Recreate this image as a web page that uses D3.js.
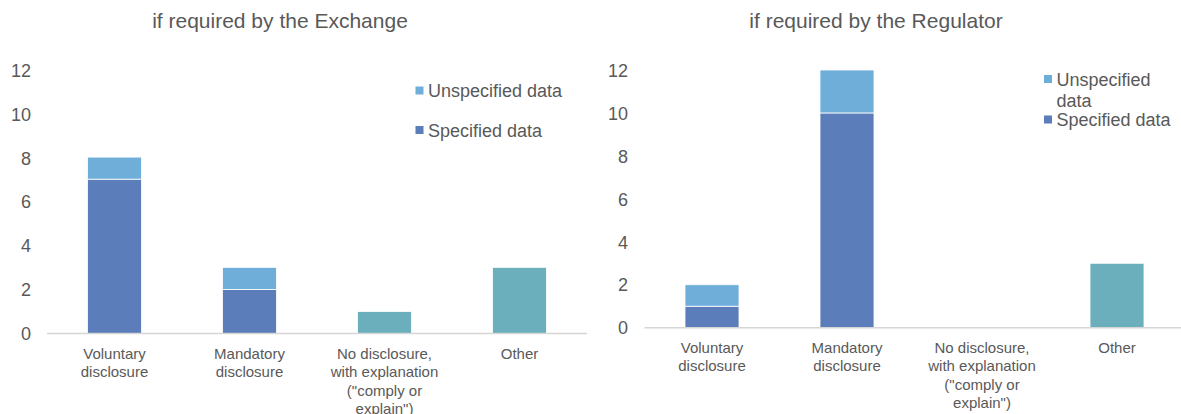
<!DOCTYPE html>
<html>
<head>
<meta charset="utf-8">
<script src="https://cdn.jsdelivr.net/npm/d3@7"></script>
<style>
  body { margin: 0; background: #fff; }
  text { font-family: "Liberation Sans", Arial, sans-serif; fill: #595959; }
</style>
</head>
<body>
<svg width="1181" height="414"></svg>
<script>
const categories = ["Voluntary disclosure", "Mandatory disclosure",
  'No disclosure, with explanation ("comply or explain")', "Other"];
const yTicks = [0, 2, 4, 6, 8, 10, 12];

const exchangeSpecified = [7, 2, 0, 0];
const exchangeUnspecified = [1, 1, 0, 0];
const exchangeOther = [0, 0, 1, 3];

const regulatorSpecified = [1, 10, 0, 0];
const regulatorUnspecified = [1, 2, 0, 0];
const regulatorOther = [0, 0, 0, 3];

const colors = {specified: "#5b7dba", unspecified: "#70aeda", other: "#6aafbb"};
const legendItems = [["unspecified", "Unspecified data"], ["specified", "Specified data"]];

const svg = d3.select("svg");

drawPanel({
  title: "if required by the Exchange", titleX: 280,
  specified: exchangeSpecified, unspecified: exchangeUnspecified, other: exchangeOther,
  x0: 47, x1: 587, lineEnd: 587, yBase: 333.5, yTop: 68.9, tickX: 31, labelShift: 1.5,
  legendX: 415.5, legendY: [90.5, 130], legendWrap: 200
});
drawPanel({
  title: "if required by the Regulator", titleX: 876,
  specified: regulatorSpecified, unspecified: regulatorUnspecified, other: regulatorOther,
  x0: 644.5, x1: 1184.5, lineEnd: 1181, yBase: 327.7, yTop: 70, tickX: 628, labelShift: 1,
  legendX: 1044, legendY: [79, 119.5], legendWrap: 120
});

/////////////////////////////////////////////////
function drawPanel(p) {
  const g = svg.append("g");
  const rows = categories.map((c, i) => ({
    cat: c, specified: p.specified[i], unspecified: p.unspecified[i], other: p.other[i]
  }));

  const x = d3.scaleBand().domain(categories).range([p.x0, p.x1])
      .paddingInner(0.6).paddingOuter(0.3);
  const y = d3.scaleLinear().domain([0, 12]).range([p.yBase, p.yTop]);

  g.append("text")
      .attr("x", p.titleX).attr("y", 28)
      .attr("text-anchor", "middle")
      .style("font-size", "21px")
      .text(p.title);

  // y axis labels only
  const yAxis = g.append("g")
      .attr("transform", `translate(${p.tickX},0)`)
      .call(d3.axisLeft(y).tickValues(yTicks).tickSize(0).tickPadding(0));
  yAxis.select(".domain").remove();
  yAxis.selectAll("text")
      .style("font-size", "18px")
      .attr("dy", (d) => (0.33 + (d / 12) * p.labelShift / 18) + "em")
      .attr("fill", null);

  const stack = d3.stack().keys(["specified", "unspecified", "other"]);
  const layers = stack(rows);

  g.append("g").selectAll("g")
      .data(layers)
      .enter().append("g")
      .attr("fill", (d) => colors[d.key])
      .selectAll("rect")
      .data((d) => d.filter((s) => s[1] - s[0] > 0))
      .enter().append("rect")
      .attr("x", (d) => x(d.data.cat))
      .attr("width", x.bandwidth())
      .attr("y", (d) => y(d[1]))
      .attr("height", (d) => y(d[0]) - y(d[1]))
      .attr("stroke", "#fff")
      .attr("stroke-width", 0.8);

  // category axis
  g.append("line")
      .attr("x1", p.x0).attr("x2", p.lineEnd)
      .attr("y1", p.yBase).attr("y2", p.yBase)
      .attr("stroke", "#d6d6d6").attr("stroke-width", 1.5);

  const xAxis = g.append("g")
      .attr("transform", `translate(0,${p.yBase})`)
      .call(d3.axisBottom(x).tickSize(0).tickPadding(0));
  xAxis.select(".domain").remove();
  xAxis.selectAll("text")
      .style("font-size", "15px")
      .attr("fill", null)
      .attr("y", 25).attr("dy", 0)
      .each(function(d) { wrap(d3.select(this), d, 112, 18.6); });

  // legend
  const leg = g.append("g");
  legendItems.forEach(([key, label], i) => {
    const cy = p.legendY[i];
    leg.append("rect")
        .attr("x", p.legendX).attr("y", cy - 4)
        .attr("width", 8).attr("height", 8)
        .attr("fill", colors[key]);
    const t = leg.append("text")
        .attr("x", p.legendX + 12.5).attr("y", cy + 6.5)
        .style("font-size", "18px");
    wrap(t, label, p.legendWrap, 21.5, true);
  });
}

function wrap(text, str, width, lineHeight, left) {
  const words = str.split(/\s+/);
  const xAttr = text.attr("x") || 0;
  text.text(null);
  let line = [];
  let n = 0;
  let tspan = text.append("tspan").attr("x", xAttr).attr("dy", 0);
  words.forEach((w) => {
    line.push(w);
    tspan.text(line.join(" "));
    if (tspan.node().getComputedTextLength() > width && line.length > 1) {
      line.pop();
      tspan.text(line.join(" "));
      line = [w];
      n++;
      tspan = text.append("tspan").attr("x", xAttr).attr("dy", lineHeight).text(w);
    }
  });
}
</script>
</body>
</html>
